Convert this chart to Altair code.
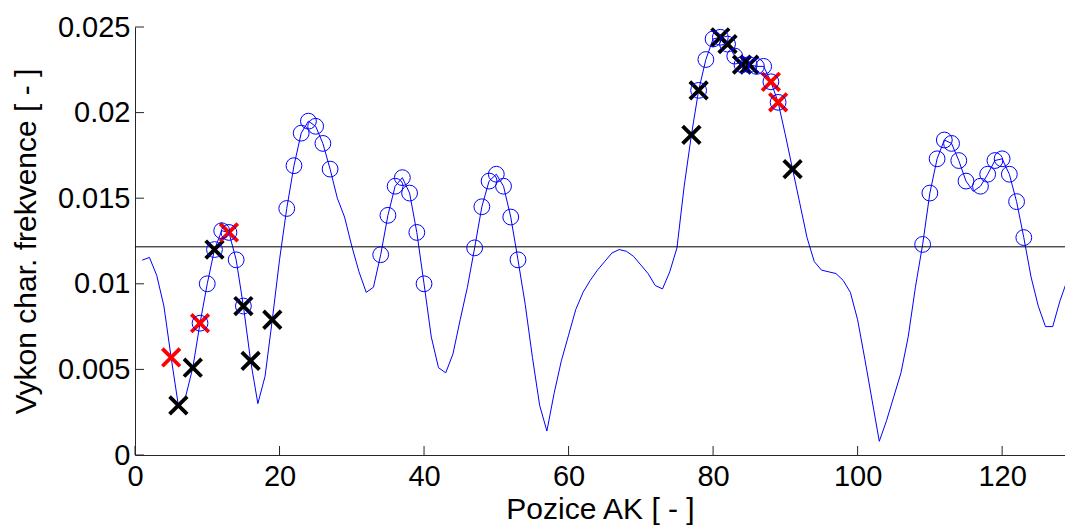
import altair as alt
import pandas as pd

# amino-acid positions (x) and characteristic frequency power (y)
positions = list(range(1, 130))
power = [
    0.01138, 0.01154, 0.0105, 0.0087, 0.0057, 0.0029, 0.0034, 0.0051, 0.0077, 0.0100,
    0.0120, 0.0131, 0.0130, 0.0114, 0.0087, 0.0055, 0.0030, 0.0046, 0.0079, 0.0114,
    0.0144, 0.0169, 0.0188, 0.0195, 0.0192, 0.0182, 0.0167, 0.0150, 0.0139, 0.0122,
    0.0107, 0.0095, 0.0098, 0.0117, 0.0140, 0.0157, 0.0162, 0.0153, 0.0130, 0.0100,
    0.0069, 0.0051, 0.0048, 0.0059, 0.0079, 0.0098, 0.0121, 0.0145, 0.0160, 0.0164,
    0.0157, 0.0139, 0.0114, 0.0088, 0.0057, 0.0029, 0.0014, 0.0036, 0.0055, 0.0070,
    0.0085, 0.0095, 0.0102, 0.0108, 0.0113, 0.0118, 0.0120, 0.0119, 0.0116, 0.0111,
    0.0106, 0.0099, 0.0097, 0.0107, 0.0121, 0.0157, 0.0187, 0.0213, 0.0231, 0.0243,
    0.0244, 0.0240, 0.0233, 0.0228, 0.0228, 0.0227, 0.0227, 0.0218, 0.0206, 0.0187,
    0.0167, 0.0147, 0.0127, 0.0113, 0.0108, 0.0107, 0.0106, 0.0102, 0.0095, 0.0079,
    0.0056, 0.0032, 0.0008, 0.0020, 0.0034, 0.0048, 0.0069, 0.0098, 0.0123, 0.0153,
    0.0173, 0.0184, 0.0182, 0.0172, 0.0160, 0.0154, 0.0157, 0.0164, 0.0172, 0.0173,
    0.0164, 0.0148, 0.0127, 0.0104, 0.0087, 0.0075, 0.0075, 0.0090, 0.0102,
]

circle_pos = (list(range(9, 16)) + list(range(21, 28)) + list(range(34, 41))
              + list(range(47, 54)) + list(range(78, 90)) + list(range(109, 116))
              + list(range(117, 124)))
black_pos = [6, 8, 11, 15, 16, 19, 77, 78, 81, 82, 84, 85, 91]
red_pos = [5, 9, 13, 88, 89]
threshold = 0.01216

x_ticks = [0, 20, 40, 60, 80, 100, 120]
y_ticks = [0, 0.005, 0.01, 0.015, 0.02, 0.025]

W, H = 930, 428
FONT = "Liberation Sans"
AX = "#262626"

lookup = dict(zip(positions, power))
df = pd.DataFrame({"x": positions, "y": power})
circ_df = pd.DataFrame({"x": circle_pos, "y": [lookup[p] for p in circle_pos]})
black_df = pd.DataFrame({"x": black_pos, "y": [lookup[p] for p in black_pos]})
red_df = pd.DataFrame({"x": red_pos, "y": [lookup[p] for p in red_pos]})
thr_df = pd.DataFrame({"t": [threshold]})
xt_df = pd.DataFrame({"v": x_ticks})
yt_df = pd.DataFrame({"v": y_ticks})

xs = alt.Scale(domain=[0, 128.7], nice=False, zero=False)
ys = alt.Scale(domain=[0, 0.025], nice=False)

x_axis = alt.Axis(values=x_ticks, ticks=False, grid=False, labelFlush=False,
                  labelOverlap=False, labelFont=FONT, labelFontSize=29,
                  labelColor="black", labelPadding=7, domainColor=AX,
                  title="Pozice AK [ - ]", titleFont=FONT, titleFontSize=30,
                  titleFontWeight="normal", titleColor="black", titlePadding=3)
y_axis = alt.Axis(values=y_ticks, ticks=False, grid=False, format="~g",
                  labelOverlap=False, labelFont=FONT, labelFontSize=29,
                  labelColor="black", labelPadding=5, domainColor=AX,
                  title="Vykon char. frekvence [ - ]", titleFont=FONT,
                  titleFontSize=30, titleFontWeight="normal", titleColor="black",
                  titlePadding=16)

line = alt.Chart(df).mark_line(color="#0000ff", strokeWidth=1, clip=True).encode(
    x=alt.X("x:Q", scale=xs, axis=x_axis),
    y=alt.Y("y:Q", scale=ys, axis=y_axis),
)

thr = alt.Chart(thr_df).mark_rule(color="black", strokeWidth=1).encode(
    y=alt.Y("t:Q", scale=ys)
)

XPATH = "M-1,-1L1,1M-1,1L1,-1"
black = alt.Chart(black_df).mark_point(shape=XPATH, filled=False, color="black",
                                       strokeWidth=3.8, size=310, opacity=1).encode(
    x=alt.X("x:Q", scale=xs), y=alt.Y("y:Q", scale=ys))
red = alt.Chart(red_df).mark_point(shape=XPATH, filled=False, color="#ff0000",
                                   strokeWidth=3.8, size=310, opacity=1).encode(
    x=alt.X("x:Q", scale=xs), y=alt.Y("y:Q", scale=ys))
circles = alt.Chart(circ_df).mark_point(shape="circle", filled=False, color="#0000ff",
                                        strokeWidth=1, size=250, opacity=1).encode(
    x=alt.X("x:Q", scale=xs), y=alt.Y("y:Q", scale=ys))

xticks = alt.Chart(xt_df).mark_rule(color=AX, strokeWidth=1).encode(
    x=alt.X("v:Q", scale=xs), y=alt.value(H), y2=alt.value(H - 9))
yticks = alt.Chart(yt_df).mark_rule(color=AX, strokeWidth=1).encode(
    y=alt.Y("v:Q", scale=ys), x=alt.value(0), x2=alt.value(9))

chart = alt.layer(xticks, yticks, line, thr, black, red, circles).properties(
    width=W, height=H,
    autosize=alt.AutoSizeParams(type="none"),
    padding={"left": 135, "top": 27, "right": 0, "bottom": 76},
).configure_view(stroke=None)

chart.save("out.html", embed_options={"renderer": "svg", "actions": False})
